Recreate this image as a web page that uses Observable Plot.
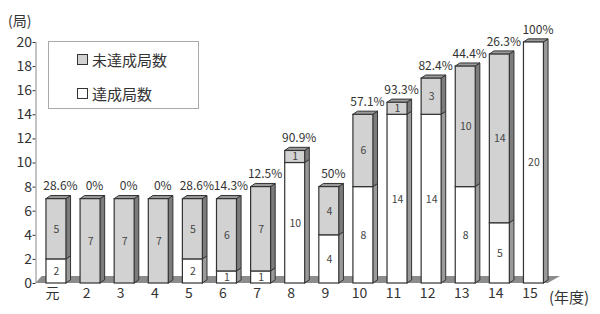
<!DOCTYPE html>
<html>
<head>
<meta charset="utf-8">
<script src="https://cdn.jsdelivr.net/npm/d3@7"></script>
<script src="https://cdn.jsdelivr.net/npm/@observablehq/plot@0.6"></script>
<style>
  body { margin: 0; background: #fff; }
  #wrap { position: relative; width: 600px; height: 314px; font-family: "Noto Sans CJK JP", sans-serif; color: #333; }
  .ov { position: absolute; white-space: nowrap; line-height: 1; }
  #legend { position: absolute; left: 48px; top: 41px; width: 149px; height: 66px; border: 1px solid #aaa; background: #fff; }
  .item { position: absolute; left: 28px; font-size: 15px; display: flex; align-items: center; line-height: 1; }
  .sw { width: 9px; height: 9px; border: 1px solid #333; margin-right: 4px; }
</style>
</head>
<body>
<div id="wrap"></div>
<script>
const categories = ["元","2","3","4","5","6","7","8","9","10","11","12","13","14","15"];
const achieved    = [2, 0, 0, 0, 2, 1, 1, 10, 4, 8, 14, 14, 8, 5, 20];
const notAchieved = [5, 7, 7, 7, 5, 6, 7, 1, 4, 6, 1, 3, 10, 14, 0];
const rateLabels  = ["28.6%","0%","0%","0%","28.6%","14.3%","12.5%","90.9%","50%","57.1%","93.3%","82.4%","44.4%","26.3%","100%"];
const seriesNames = ["達成局数", "未達成局数"];
const seriesColors = ["#ffffff", "#d2d2d2"];
const yTicks = d3.range(0, 21, 2);

// geometry in data units
const hw = 0.293;     // half width of front face
const dxu = 0.135;    // depth offset in x
const dyu = 0.26;     // depth offset in y
const xMin = -0.6, xMax = 15.4;

const segments = [];
categories.forEach((c, i) => {
  const a = achieved[i], n = notAchieved[i];
  if (a > 0) segments.push({i, lo: 0, hi: a, v: a, s: 0, z: i * 2});
  if (n > 0) segments.push({i, lo: a, hi: a + n, v: n, s: 1, z: i * 2 + 1});
});

const sidePts = segments.flatMap(d => [
  {z: d.z, s: d.s, x: d.i + hw, y1: d.lo, y2: d.hi},
  {z: d.z, s: d.s, x: d.i + hw + dxu, y1: d.lo + dyu, y2: d.hi + dyu}
]);
const topPts = categories.flatMap((c, i) => {
  const t = achieved[i] + notAchieved[i];
  return [
    {z: i, y: t, x1: i - hw, x2: i + hw},
    {z: i, y: t + dyu, x1: i - hw + dxu, x2: i + hw + dxu}
  ];
});
const floorPts = [
  {y: 0, x1: xMin, x2: 14.42},
  {y: 0.58, x1: xMin + 0.18, x2: 14.78}
];
const totals = categories.map((c, i) => ({i, t: achieved[i] + notAchieved[i], label: rateLabels[i]}));

const chart = Plot.plot({
  width: 600,
  height: 314,
  marginLeft: 35.5,
  marginRight: 18.8,
  marginTop: 42,
  marginBottom: 31,
  style: {fontFamily: "'Noto Sans CJK JP', sans-serif", fontSize: "14px", color: "#333", background: "#fff"},
  x: {domain: [xMin, xMax], axis: null},
  y: {domain: [0, 20], ticks: yTicks, tickSize: 3, tickPadding: 1, label: null},
  marks: [
    Plot.areaX(floorPts, {y: "y", x1: "x1", x2: "x2", fill: "#8c8c8c", curve: "linear"}),
    Plot.ruleX([xMin], {y1: 0, y2: 20, stroke: "#888"}),
    Plot.areaY(sidePts, {x: "x", y1: "y1", y2: "y2", z: "z", fill: d => d.s === 0 ? "#9a9a9a" : "#7c7c7c", stroke: "#333", strokeWidth: 1, curve: "linear"}),
    Plot.areaX(topPts, {y: "y", x1: "x1", x2: "x2", z: "z", fill: "#9a9a9a", stroke: "#333", strokeWidth: 1, curve: "linear"}),
    Plot.rectY(segments, {x1: d => d.i - hw, x2: d => d.i + hw, y1: "lo", y2: "hi", fill: d => seriesColors[d.s], stroke: "#333", strokeWidth: 1.2}),
    Plot.text(segments, {x: "i", y: d => (d.lo + d.hi) / 2, text: d => String(d.v), fontSize: 10.5, fill: "#444"}),
    Plot.text(totals, {x: "i", y: "t", text: "label", dx: 4, dy: -12.5, fontSize: 12, fill: "#333"}),
    Plot.text(categories, {x: (d, i) => i, frameAnchor: "bottom", text: d => d, dx: -4, dy: 14.5, fontSize: 14, fill: "#333"})
  ]
});

const wrap = document.getElementById("wrap");
wrap.appendChild(chart);

function ov(text, left, top, size) {
  const el = document.createElement("div");
  el.className = "ov";
  el.textContent = text;
  el.style.left = left + "px";
  el.style.top = top + "px";
  el.style.fontSize = size + "px";
  wrap.appendChild(el);
}
ov("(局)", 8, 13, 14);
ov("(年度)", 549, 289, 15);

const legend = document.createElement("div");
legend.id = "legend";
[[1, 10], [0, 44]].forEach(([s, top]) => {
  const it = document.createElement("div");
  it.className = "item";
  it.style.top = top + "px";
  const sw = document.createElement("span");
  sw.className = "sw";
  sw.style.background = seriesColors[s];
  const tx = document.createElement("span");
  tx.textContent = seriesNames[s];
  it.appendChild(sw); it.appendChild(tx);
  legend.appendChild(it);
});
wrap.appendChild(legend);
</script>
</body>
</html>
